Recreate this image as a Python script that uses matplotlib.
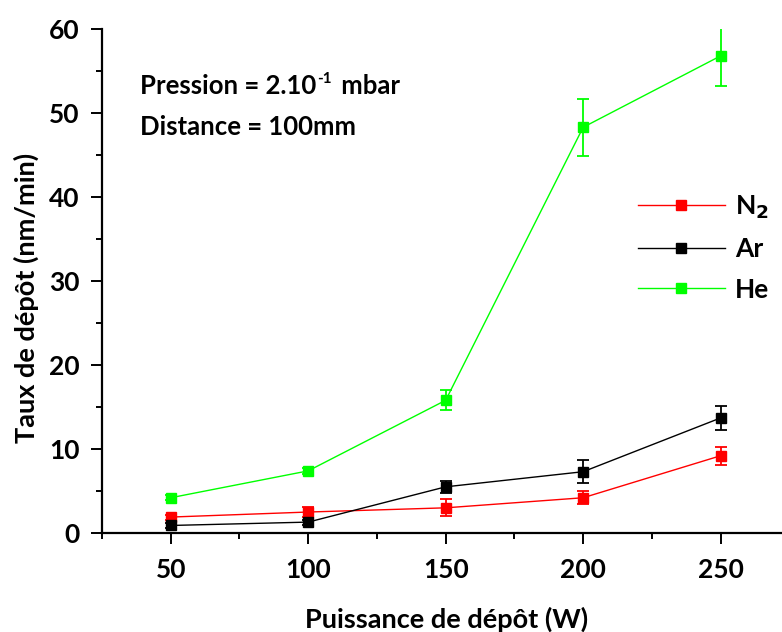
import matplotlib
matplotlib.use('Agg')
import matplotlib.pyplot as plt
from matplotlib.lines import Line2D
from matplotlib.ticker import MultipleLocator

plt.rcParams['font.family'] = ['Lato', 'DejaVu Sans']
plt.rcParams['font.weight'] = 'bold'

# ── Data ─────────────────────────────────────────────────────────────────────
puissance = [50, 100, 150, 200, 250]

n2 = [1.9, 2.5, 3.0, 4.2, 9.2]
n2_err = [0.3, 0.6, 1.0, 0.8, 1.1]

ar = [0.9, 1.3, 5.5, 7.3, 13.7]
ar_err = [0.3, 0.3, 0.7, 1.4, 1.4]

he = [4.2, 7.4, 15.8, 48.3, 56.8]
he_err = [0.3, 0.4, 1.2, 3.4, 3.6]

series = [
    ('N$_2$', n2, n2_err, '#ff0000'),
    ('Ar',    ar, ar_err, '#000000'),
    ('He',    he, he_err, '#00ff00'),
]

# ── Figure ───────────────────────────────────────────────────────────────────
fig = plt.figure(figsize=(7.82, 6.32), dpi=100)
ax = fig.add_axes([0.1304, 0.1566, 0.879, 0.7975])

handles = []
for label, vals, errs, col in series:
    ax.errorbar(puissance, vals, yerr=errs, color=col, lw=1.0,
                marker='s', ms=7.8, mec=col, mfc=col,
                elinewidth=1.3, capsize=4, capthick=1.3)
    handles.append(Line2D([], [], color=col, lw=1.0, marker='s', ms=7.8,
                          mec=col, mfc=col, label=label))

ax.set_xlim(25, 275)
ax.set_ylim(0, 60)

ax.xaxis.set_major_locator(MultipleLocator(50))
ax.xaxis.set_minor_locator(MultipleLocator(25))
ax.yaxis.set_major_locator(MultipleLocator(10))
ax.yaxis.set_minor_locator(MultipleLocator(5))

for side in ('top', 'right'):
    ax.spines[side].set_visible(False)
for side in ('left', 'bottom'):
    ax.spines[side].set_linewidth(1.6)

ax.tick_params(which='major', direction='out', length=8, width=1.4,
               labelsize=19)
ax.tick_params(axis='y', which='major', pad=8)
ax.tick_params(axis='x', which='major', pad=10)
ax.tick_params(which='minor', direction='out', length=4.5, width=1.4)
for lab in ax.get_xticklabels() + ax.get_yticklabels():
    lab.set_fontweight('bold')

ax.set_xlabel('Puissance de dépôt (W)', fontsize=19.5, fontweight='bold')
ax.set_ylabel('Taux de dépôt (nm/min)', fontsize=19.5, fontweight='bold')
ax.xaxis.set_label_coords(0.501, -0.146)
ax.yaxis.set_label_coords(-0.092, 0.466)

# annotation with a small "-1" exponent drawn as its own text
t1 = ax.text(0.055, 0.887, 'Pression = 2.10', transform=ax.transAxes,
             fontsize=18.5, fontweight='bold', va='center', ha='left')
fig.canvas.draw()
bb = t1.get_window_extent()
W, H = fig.get_figwidth() * fig.dpi, fig.get_figheight() * fig.dpi
sup = fig.text((bb.x1 + 1) / W, (bb.y1 + 2) / H,
               '-1', fontsize=11, fontweight='bold', va='top', ha='left')
fig.canvas.draw()
bb2 = sup.get_window_extent()
fig.text((bb2.x1 + 3) / W, (bb.y0 + bb.y1) / 2 / H,
         ' mbar', fontsize=18.5, fontweight='bold', va='center', ha='left')

ax.text(0.055, 0.806, 'Distance = 100mm', transform=ax.transAxes,
        fontsize=18.5, fontweight='bold', va='center', ha='left')

ax.legend(handles=handles, loc='upper left', bbox_to_anchor=(0.76, 0.70),
          frameon=False, fontsize=19, handlelength=3.3, handletextpad=0.4,
          labelspacing=0.62, borderpad=0)

fig.savefig('out.png', dpi=100)
